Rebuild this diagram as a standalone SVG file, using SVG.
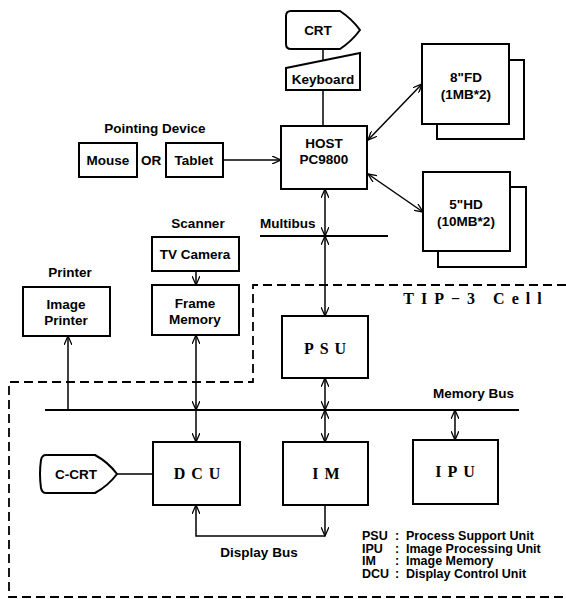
<svg xmlns="http://www.w3.org/2000/svg" width="566" height="599" viewBox="0 0 566 599">
<defs>
<style>
.bx{fill:#fff;stroke:#000;stroke-width:2}
.ln{fill:none;stroke:#000;stroke-width:1.5}
.ds{fill:none;stroke:#000;stroke-width:1.8;stroke-dasharray:9,5}
.t{font-family:"Liberation Sans Narrow","Liberation Sans",Arial,sans-serif;font-weight:bold;font-size:13.5px;fill:#000}
.lg{font-size:12.5px}
.m{text-anchor:middle}
.s{font-family:"Liberation Serif","Times New Roman",serif;font-weight:bold;font-size:16px;fill:#000;text-anchor:middle;letter-spacing:6px}
</style>
<marker id="a" viewBox="0 0 10 8" refX="9" refY="4" markerWidth="10" markerHeight="8" markerUnits="userSpaceOnUse" orient="auto-start-reverse">
<path d="M0,0 L9,4 L0,8" fill="none" stroke="#000" stroke-width="1.3"/>
</marker>
</defs>
<rect width="566" height="599" fill="#fff"/>

<g id="tip3-boundary">
<path class="ds" d="M566,285 L253,285 L253,382 L9,382 L9,597 L566,597"/>
<text class="s" x="476" y="304" style="letter-spacing:7px">TIP−3 Cell</text>
</g>

<g id="connectors">
<line class="ln" x1="323" y1="49" x2="323" y2="62"/>
<line class="ln" x1="323" y1="90" x2="323" y2="126"/>
<line class="ln" x1="223" y1="160" x2="281" y2="160" marker-end="url(#a)"/>
<line class="ln" x1="368" y1="140" x2="422" y2="84" marker-start="url(#a)" marker-end="url(#a)"/>
<line class="ln" x1="368" y1="174" x2="423" y2="212" marker-start="url(#a)" marker-end="url(#a)"/>
<line class="ln" x1="260" y1="236" x2="388" y2="236" style="stroke-width:2"/>
<line class="ln" x1="325" y1="189" x2="325" y2="236" marker-start="url(#a)" marker-end="url(#a)"/>
<line class="ln" x1="325" y1="236" x2="325" y2="316" marker-start="url(#a)" marker-end="url(#a)"/>
<line class="ln" x1="45" y1="410" x2="519" y2="410" style="stroke-width:2"/>
<line class="ln" x1="325" y1="378" x2="325" y2="410" marker-start="url(#a)" marker-end="url(#a)"/>
<line class="ln" x1="325" y1="410" x2="325" y2="442" marker-start="url(#a)" marker-end="url(#a)"/>
<line class="ln" x1="455" y1="410" x2="455" y2="440" marker-start="url(#a)" marker-end="url(#a)"/>
<line class="ln" x1="68" y1="410" x2="68" y2="336" marker-end="url(#a)"/>
<line class="ln" x1="196" y1="271" x2="196" y2="285" marker-end="url(#a)"/>
<line class="ln" x1="196" y1="335" x2="196" y2="410" marker-start="url(#a)" marker-end="url(#a)"/>
<line class="ln" x1="196" y1="410" x2="196" y2="442" marker-end="url(#a)"/>
<line class="ln" x1="117" y1="474" x2="153" y2="474"/>
<line class="ln" x1="325" y1="505" x2="325" y2="536" marker-end="url(#a)"/>
<polyline class="ln" points="325,536 196,536 196,505" marker-end="url(#a)"/>
</g>

<g id="labels">
<text class="t m" x="155" y="133">Pointing Device</text>
<text class="t m" x="151" y="165">OR</text>
<text class="t m" x="198" y="228">Scanner</text>
<text class="t m" x="70" y="277">Printer</text>
<text class="t" x="260" y="228">Multibus</text>
<text class="t" x="433" y="398">Memory Bus</text>
<text class="t m" x="259" y="557">Display Bus</text>
</g>

<g id="crt">
<path class="bx" d="M291,11 L340,11 Q352,19 360,30 Q352,41 340,49 L291,49 Q286,49 286,44 L286,16 Q286,11 291,11 Z"/>
<text class="t m" x="318" y="35">CRT</text>
</g>
<g id="keyboard">
<polygon class="bx" points="286,68 360,53 360,90 286,90"/>
<text class="t m" x="323" y="84">Keyboard</text>
</g>
<g id="host">
<rect class="bx" x="281" y="126" width="86" height="63"/>
<text class="t m" x="324" y="148">HOST</text>
<text class="t m" x="324" y="164">PC9800</text>
</g>
<g id="fd8">
<rect class="bx" x="437" y="60" width="87" height="79"/>
<rect class="bx" x="422" y="44" width="87" height="80"/>
<text class="t m" x="466" y="82">8"FD</text>
<text class="t m" x="466" y="99">(1MB*2)</text>
</g>
<g id="hd5">
<rect class="bx" x="438" y="187" width="88" height="80"/>
<rect class="bx" x="423" y="172" width="87" height="79"/>
<text class="t m" x="466" y="209">5"HD</text>
<text class="t m" x="466" y="226">(10MB*2)</text>
</g>
<g id="mouse">
<rect class="bx" x="79" y="143" width="58" height="34"/>
<text class="t m" x="108" y="165">Mouse</text>
</g>
<g id="tablet">
<rect class="bx" x="166" y="143" width="57" height="34"/>
<text class="t m" x="194" y="165">Tablet</text>
</g>
<g id="tv-camera">
<rect class="bx" x="152" y="237" width="87" height="34"/>
<text class="t m" x="195" y="259">TV Camera</text>
</g>
<g id="frame-memory">
<rect class="bx" x="152" y="285" width="87" height="50"/>
<text class="t m" x="195" y="308">Frame</text>
<text class="t m" x="195" y="324">Memory</text>
</g>
<g id="image-printer">
<rect class="bx" x="23" y="287" width="87" height="49"/>
<text class="t m" x="66" y="309">Image</text>
<text class="t m" x="66" y="325">Printer</text>
</g>
<g id="psu">
<rect class="bx" x="282" y="316" width="86" height="62"/>
<text class="s" x="328" y="354">PSU</text>
</g>
<g id="c-crt">
<path class="bx" d="M46,455 L95,455 Q108,462 117,474 Q108,486 95,493 L46,493 Q42,493 41,488 Q39,474 41,460 Q42,455 46,455 Z"/>
<text class="t m" x="76" y="479">C-CRT</text>
</g>
<g id="dcu">
<rect class="bx" x="153" y="442" width="87" height="63"/>
<text class="s" x="200" y="479">DCU</text>
</g>
<g id="im">
<rect class="bx" x="283" y="442" width="85" height="63"/>
<text class="s" x="329" y="479">IM</text>
</g>
<g id="ipu">
<rect class="bx" x="413" y="440" width="85" height="64"/>
<text class="s" x="458" y="477">IPU</text>
</g>
<g id="legend">
<text class="t lg" x="362" y="540">PSU</text><text class="t lg" x="395" y="540">:</text><text class="t lg" x="406" y="540">Process Support Unit</text>
<text class="t lg" x="362" y="552.5">IPU</text><text class="t lg" x="395" y="552.5">:</text><text class="t lg" x="406" y="552.5">Image Processing Unit</text>
<text class="t lg" x="362" y="565">IM</text><text class="t lg" x="395" y="565">:</text><text class="t lg" x="406" y="565">Image Memory</text>
<text class="t lg" x="362" y="577.5">DCU</text><text class="t lg" x="395" y="577.5">:</text><text class="t lg" x="406" y="577.5">Display Control Unit</text>
</g>
</svg>
